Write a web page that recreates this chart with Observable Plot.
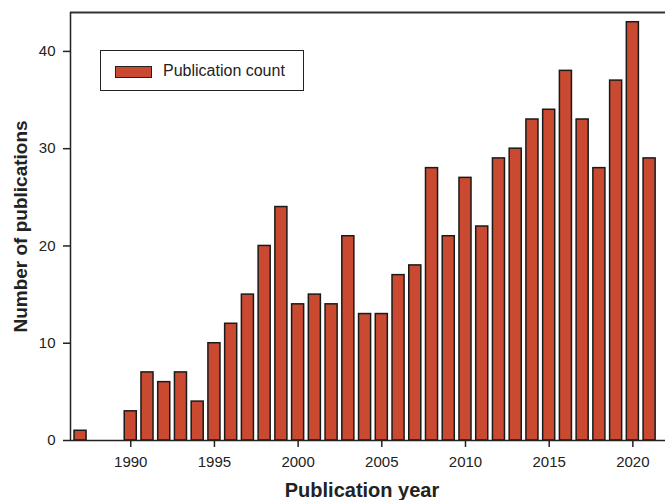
<!DOCTYPE html>
<html>
<head>
<meta charset="utf-8">
<script src="https://cdn.jsdelivr.net/npm/d3@7"></script>
<script src="https://cdn.jsdelivr.net/npm/@observablehq/plot@0.6"></script>
<style>
  html, body { margin: 0; padding: 0; background: #fff; }
  #wrap { position: relative; width: 665px; height: 500px; overflow: hidden; font-family: "Liberation Sans", Arial, sans-serif; }
  #legend { position: absolute; left: 100px; top: 50px; width: 204px; height: 41px; border: 1.5px solid #222; box-sizing: border-box; background: #fff; }
  #legend .sw { position: absolute; left: 14px; top: 15px; width: 37px; height: 12px; background: #c94a30; border: 1.5px solid #222; box-sizing: border-box; }
  #legend .lb { position: absolute; left: 62px; top: 10px; font-size: 16px; color: #222; line-height: 20px; white-space: nowrap; }
</style>
</head>
<body>
<div id="wrap"><div id="legend"><div class="sw"></div><div class="lb">Publication count</div></div></div>
<script>
const years  = [1987, 1990, 1991, 1992, 1993, 1994, 1995, 1996, 1997, 1998, 1999, 2000, 2001, 2002, 2003, 2004, 2005, 2006, 2007, 2008, 2009, 2010, 2011, 2012, 2013, 2014, 2015, 2016, 2017, 2018, 2019, 2020, 2021];
const counts = [1, 3, 7, 6, 7, 4, 10, 12, 15, 20, 24, 14, 15, 14, 21, 13, 13, 17, 18, 28, 21, 27, 22, 29, 30, 33, 34, 38, 33, 28, 37, 43, 29];
const xTicks = [1990, 1995, 2000, 2005, 2010, 2015, 2020];
const yTicks = [0, 10, 20, 30, 40];
const xDomain = [1986.4, 2021.95];
const yDomain = [0, 44];
const halfBar = 0.36;

const data = years.map((year, i) => ({year, count: counts[i]}));

const chart = Plot.plot({
  width: 665,
  height: 500,
  marginLeft: 70,
  marginRight: 0,
  marginTop: 12,
  marginBottom: 60,
  style: {fontFamily: "'Liberation Sans', Arial, sans-serif", color: "#222", background: "transparent"},
  x: {domain: xDomain, ticks: xTicks, tickFormat: "d", tickSize: 7, tickPadding: 9,
      label: "Publication year", labelAnchor: "center", labelArrow: "none", labelOffset: 56},
  y: {domain: yDomain, ticks: yTicks, tickSize: 7, tickPadding: 8,
      label: "Number of publications", labelAnchor: "center", labelArrow: "none", labelOffset: 57},
  marks: [
    Plot.rectY(data, {x1: d => d.year - halfBar, x2: d => d.year + halfBar, y: "count", fill: "#c94a30", stroke: "#1a1a1a", strokeWidth: 1.5}),
    Plot.ruleY([yDomain[0]], {stroke: "#222", strokeWidth: 1.5}),
    Plot.ruleY([yDomain[1]], {stroke: "#333", strokeWidth: 2}),
    Plot.ruleX([xDomain[0]], {stroke: "#222", strokeWidth: 1.5})
  ]
});

d3.select(chart).select("[aria-label='x-axis tick label']").style("font-size", "15px");
d3.select(chart).select("[aria-label='y-axis tick label']").style("font-size", "15px");
d3.select(chart).select("[aria-label='x-axis label']").style("font-size", "20px").style("font-weight", "bold")
  .selectAll("text").attr("dx", -6);
d3.select(chart).select("[aria-label='y-axis label']").style("font-size", "19px").style("font-weight", "bold");
d3.select(chart).selectAll("[aria-label$='tick']").attr("stroke", "#222").attr("stroke-width", 1.5);
chart.style.position = "absolute";
chart.style.left = "0";
chart.style.top = "0";
const wrap = document.getElementById("wrap");
wrap.insertBefore(chart, wrap.firstChild);
</script>
</body>
</html>
